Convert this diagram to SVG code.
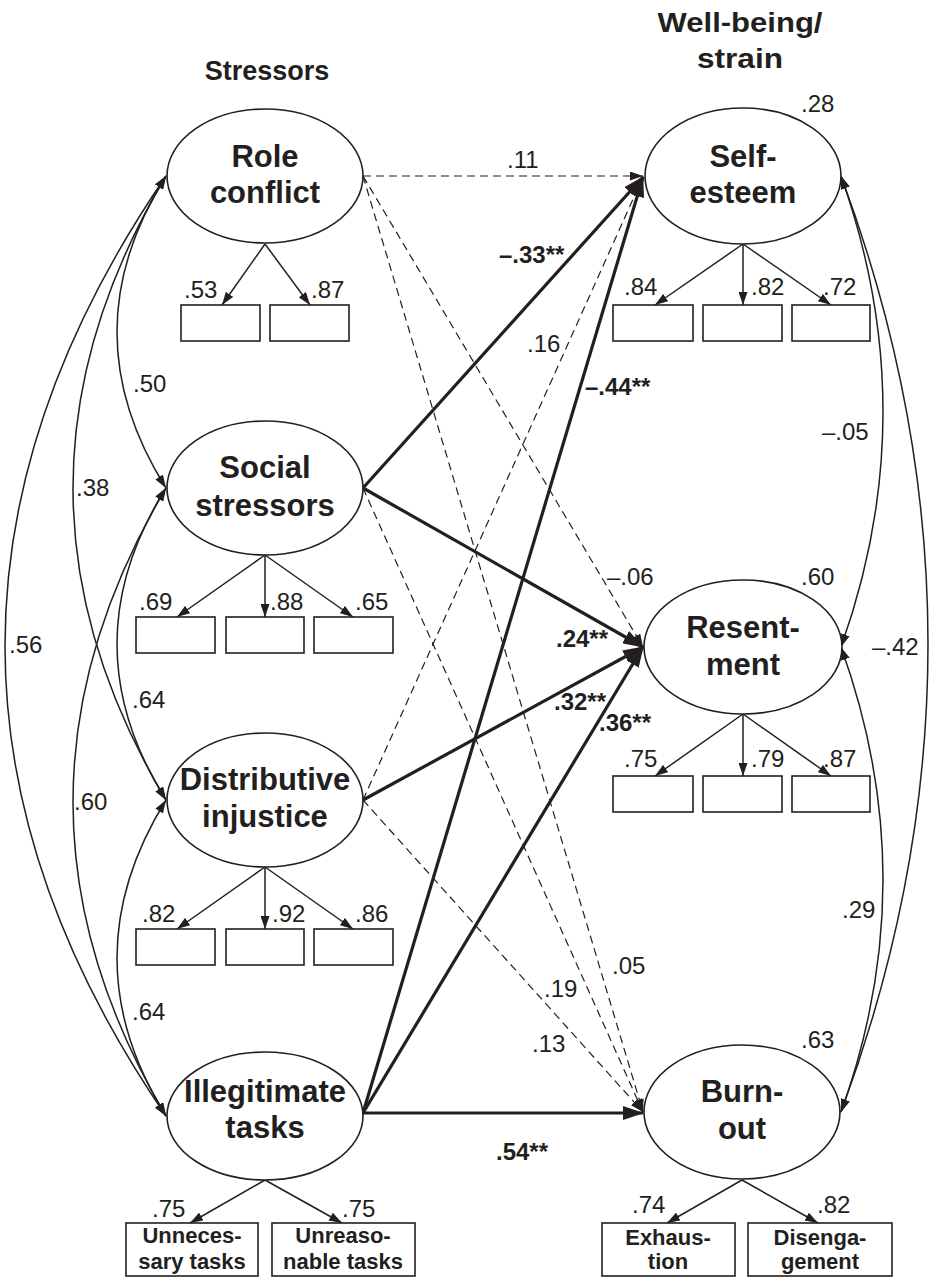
<svg xmlns="http://www.w3.org/2000/svg" width="930" height="1279" viewBox="0 0 930 1279">
<style>
text{font-family:"Liberation Sans",Arial,sans-serif;fill:#231f20}
.title{font-size:27px;font-weight:bold;text-anchor:middle}
.lat{font-size:31px;font-weight:bold;text-anchor:middle}
.num{font-size:24px}
.bnum{font-size:24px;font-weight:bold}
.box{font-size:22px;font-weight:bold;text-anchor:middle}
ellipse,rect{fill:#fff;stroke:#231f20;stroke-width:1.6}
.ln{fill:none;stroke:#231f20;stroke-width:1.5}
.th{fill:none;stroke:#231f20;stroke-width:3.2}
.ds{fill:none;stroke:#231f20;stroke-width:1.2;stroke-dasharray:8 5}
</style>
<defs>
<marker id="a" viewBox="0 0 13 9" refX="13" refY="4.5" markerWidth="13" markerHeight="9" markerUnits="userSpaceOnUse" orient="auto-start-reverse"><path d="M0,0L13,4.5L0,9z" fill="#231f20"/></marker>
<marker id="b" viewBox="0 0 21 14" refX="20" refY="7" markerWidth="21" markerHeight="14" markerUnits="userSpaceOnUse" orient="auto"><path d="M0,0L21,7L0,14z" fill="#231f20"/></marker>
</defs>

<text class="title" x="267" y="80">Stressors</text>
<text class="title" x="740" y="32" textLength="165" lengthAdjust="spacingAndGlyphs">Well-being/</text>
<text class="title" x="740" y="68" textLength="86" lengthAdjust="spacingAndGlyphs">strain</text>

<g id="connectors">
<!-- left covariances -->
<path class="ln" d="M166,176 Q68,332 166,488" marker-start="url(#a)" marker-end="url(#a)"/>
<path class="ln" d="M166,176 Q-20,488 166,800" marker-start="url(#a)" marker-end="url(#a)"/>
<path class="ln" d="M166,176 Q-156,646 166,1116" marker-start="url(#a)" marker-end="url(#a)"/>
<path class="ln" d="M166,488 Q68,644 166,800" marker-start="url(#a)" marker-end="url(#a)"/>
<path class="ln" d="M166,488 Q-20,802 166,1116" marker-start="url(#a)" marker-end="url(#a)"/>
<path class="ln" d="M166,800 Q68,958 166,1116" marker-start="url(#a)" marker-end="url(#a)"/>
<!-- right covariances -->
<path class="ln" d="M841,176 Q925,412 841,647" marker-start="url(#a)" marker-end="url(#a)"/>
<path class="ln" d="M841,647 Q925,880 841,1112" marker-start="url(#a)" marker-end="url(#a)"/>
<path class="ln" d="M841,176 Q1015,644 841,1112" marker-start="url(#a)" marker-end="url(#a)"/>
<!-- structural paths -->
<path class="ds" d="M363,176 L643,176" marker-end="url(#a)"/>
<path class="ds" d="M363,176 L643,647" marker-end="url(#a)"/>
<path class="ds" d="M363,176 L643,1112" marker-end="url(#a)"/>
<path class="th" d="M363,488 L643,177" marker-end="url(#b)"/>
<path class="th" d="M363,488 L643,647" marker-end="url(#b)"/>
<path class="ds" d="M363,488 L643,1112" marker-end="url(#a)"/>
<path class="ds" d="M363,800 L643,177" marker-end="url(#a)"/>
<path class="th" d="M363,800 L643,647" marker-end="url(#b)"/>
<path class="ds" d="M363,800 L643,1112" marker-end="url(#a)"/>
<path class="th" d="M363,1113 L643,177" marker-end="url(#b)"/>
<path class="th" d="M363,1113 L643,647" marker-end="url(#b)"/>
<path class="th" d="M363,1113 L643,1113" marker-end="url(#b)"/>
<!-- loadings -->
<path class="ln" d="M265,244 L222,305" marker-end="url(#a)"/>
<path class="ln" d="M265,244 L310,305" marker-end="url(#a)"/>
<path class="ln" d="M265,555 L177,617" marker-end="url(#a)"/>
<path class="ln" d="M265,555 L265,617" marker-end="url(#a)"/>
<path class="ln" d="M265,555 L353,617" marker-end="url(#a)"/>
<path class="ln" d="M265,867 L177,929" marker-end="url(#a)"/>
<path class="ln" d="M265,867 L265,929" marker-end="url(#a)"/>
<path class="ln" d="M265,867 L353,929" marker-end="url(#a)"/>
<path class="ln" d="M265,1180 L190,1223" marker-end="url(#a)"/>
<path class="ln" d="M265,1180 L342,1223" marker-end="url(#a)"/>
<path class="ln" d="M743,244 L655,305" marker-end="url(#a)"/>
<path class="ln" d="M743,244 L743,305" marker-end="url(#a)"/>
<path class="ln" d="M743,244 L831,305" marker-end="url(#a)"/>
<path class="ln" d="M743,714 L655,776" marker-end="url(#a)"/>
<path class="ln" d="M743,714 L743,776" marker-end="url(#a)"/>
<path class="ln" d="M743,714 L831,776" marker-end="url(#a)"/>
<path class="ln" d="M742,1180 L667,1223" marker-end="url(#a)"/>
<path class="ln" d="M742,1180 L818,1223" marker-end="url(#a)"/>
<!-- labels -->
<text class="num" x="133" y="392">.50</text>
<text class="num" x="76" y="496">.38</text>
<text class="num" x="9" y="653">.56</text>
<text class="num" x="132" y="708">.64</text>
<text class="num" x="74" y="810">.60</text>
<text class="num" x="132" y="1020">.64</text>
<text class="num" x="822" y="440">–.05</text>
<text class="num" x="872" y="655">–.42</text>
<text class="num" x="842" y="918">.29</text>
<text class="num" x="507" y="168">.11</text>
<text class="bnum" x="499" y="263">–.33**</text>
<text class="num" x="527" y="352">.16</text>
<text class="bnum" x="585" y="395">–.44**</text>
<text class="num" x="607" y="585">–.06</text>
<text class="bnum" x="556" y="647">.24**</text>
<text class="bnum" x="554" y="710">.32**</text>
<text class="bnum" x="599" y="731">.36**</text>
<text class="num" x="612" y="974">.05</text>
<text class="num" x="544" y="997">.19</text>
<text class="num" x="532" y="1052">.13</text>
<text class="bnum" x="496" y="1160">.54**</text>
</g>

<g id="role-conflict">
<ellipse cx="265" cy="176" rx="98" ry="67"/>
<text class="lat" x="265" y="167">Role</text>
<text class="lat" x="265" y="203">conflict</text>
<rect x="181" y="305" width="79" height="36"/>
<rect x="270" y="305" width="79" height="36"/>
<text class="num" x="184" y="298">.53</text>
<text class="num" x="311" y="298">.87</text>
</g>

<g id="social-stressors">
<ellipse cx="265" cy="488" rx="98" ry="67"/>
<text class="lat" x="265" y="478">Social</text>
<text class="lat" x="265" y="516">stressors</text>
<rect x="136" y="617" width="79" height="36"/>
<rect x="226" y="617" width="78" height="36"/>
<rect x="314" y="617" width="79" height="36"/>
<text class="num" x="139" y="610">.69</text>
<text class="num" x="270" y="610">.88</text>
<text class="num" x="355" y="610">.65</text>
</g>

<g id="distributive-injustice">
<ellipse cx="265" cy="800" rx="98" ry="67"/>
<text class="lat" x="265" y="790">Distributive</text>
<text class="lat" x="265" y="827">injustice</text>
<rect x="136" y="929" width="79" height="36"/>
<rect x="226" y="929" width="78" height="36"/>
<rect x="314" y="929" width="79" height="36"/>
<text class="num" x="142" y="922">.82</text>
<text class="num" x="272" y="922">.92</text>
<text class="num" x="355" y="922">.86</text>
</g>

<g id="illegitimate-tasks">
<ellipse cx="265" cy="1116" rx="98" ry="64"/>
<text class="lat" x="265" y="1102">Illegitimate</text>
<text class="lat" x="265" y="1138">tasks</text>
<rect x="126" y="1223" width="132" height="53"/>
<rect x="272" y="1223" width="143" height="53"/>
<text class="box" x="192" y="1243">Unneces-</text>
<text class="box" x="192" y="1269">sary tasks</text>
<text class="box" x="343" y="1243">Unreaso-</text>
<text class="box" x="343" y="1269">nable tasks</text>
<text class="num" x="152" y="1217">.75</text>
<text class="num" x="342" y="1217">.75</text>
</g>

<g id="self-esteem">
<ellipse cx="743" cy="176" rx="98" ry="68"/>
<text class="lat" x="743" y="167">Self-</text>
<text class="lat" x="743" y="203">esteem</text>
<rect x="613" y="305" width="80" height="36"/>
<rect x="703" y="305" width="79" height="36"/>
<rect x="792" y="305" width="78" height="36"/>
<text class="num" x="624" y="295">.84</text>
<text class="num" x="751" y="295">.82</text>
<text class="num" x="823" y="295">.72</text>
<text class="num" x="801" y="112">.28</text>
</g>

<g id="resentment">
<ellipse cx="743" cy="647" rx="99" ry="67"/>
<text class="lat" x="743" y="638">Resent-</text>
<text class="lat" x="743" y="675">ment</text>
<rect x="613" y="776" width="80" height="36"/>
<rect x="703" y="776" width="79" height="36"/>
<rect x="792" y="776" width="78" height="36"/>
<text class="num" x="624" y="767">.75</text>
<text class="num" x="751" y="767">.79</text>
<text class="num" x="823" y="767">.87</text>
<text class="num" x="801" y="585">.60</text>
</g>

<g id="burnout">
<ellipse cx="742" cy="1112" rx="98" ry="67"/>
<text class="lat" x="742" y="1102">Burn-</text>
<text class="lat" x="742" y="1139">out</text>
<rect x="602" y="1223" width="133" height="53"/>
<rect x="748" y="1223" width="144" height="53"/>
<text class="box" x="668" y="1245">Exhaus-</text>
<text class="box" x="668" y="1269">tion</text>
<text class="box" x="820" y="1245">Disenga-</text>
<text class="box" x="820" y="1269">gement</text>
<text class="num" x="632" y="1213">.74</text>
<text class="num" x="817" y="1213">.82</text>
<text class="num" x="801" y="1048">.63</text>
</g>
</svg>
